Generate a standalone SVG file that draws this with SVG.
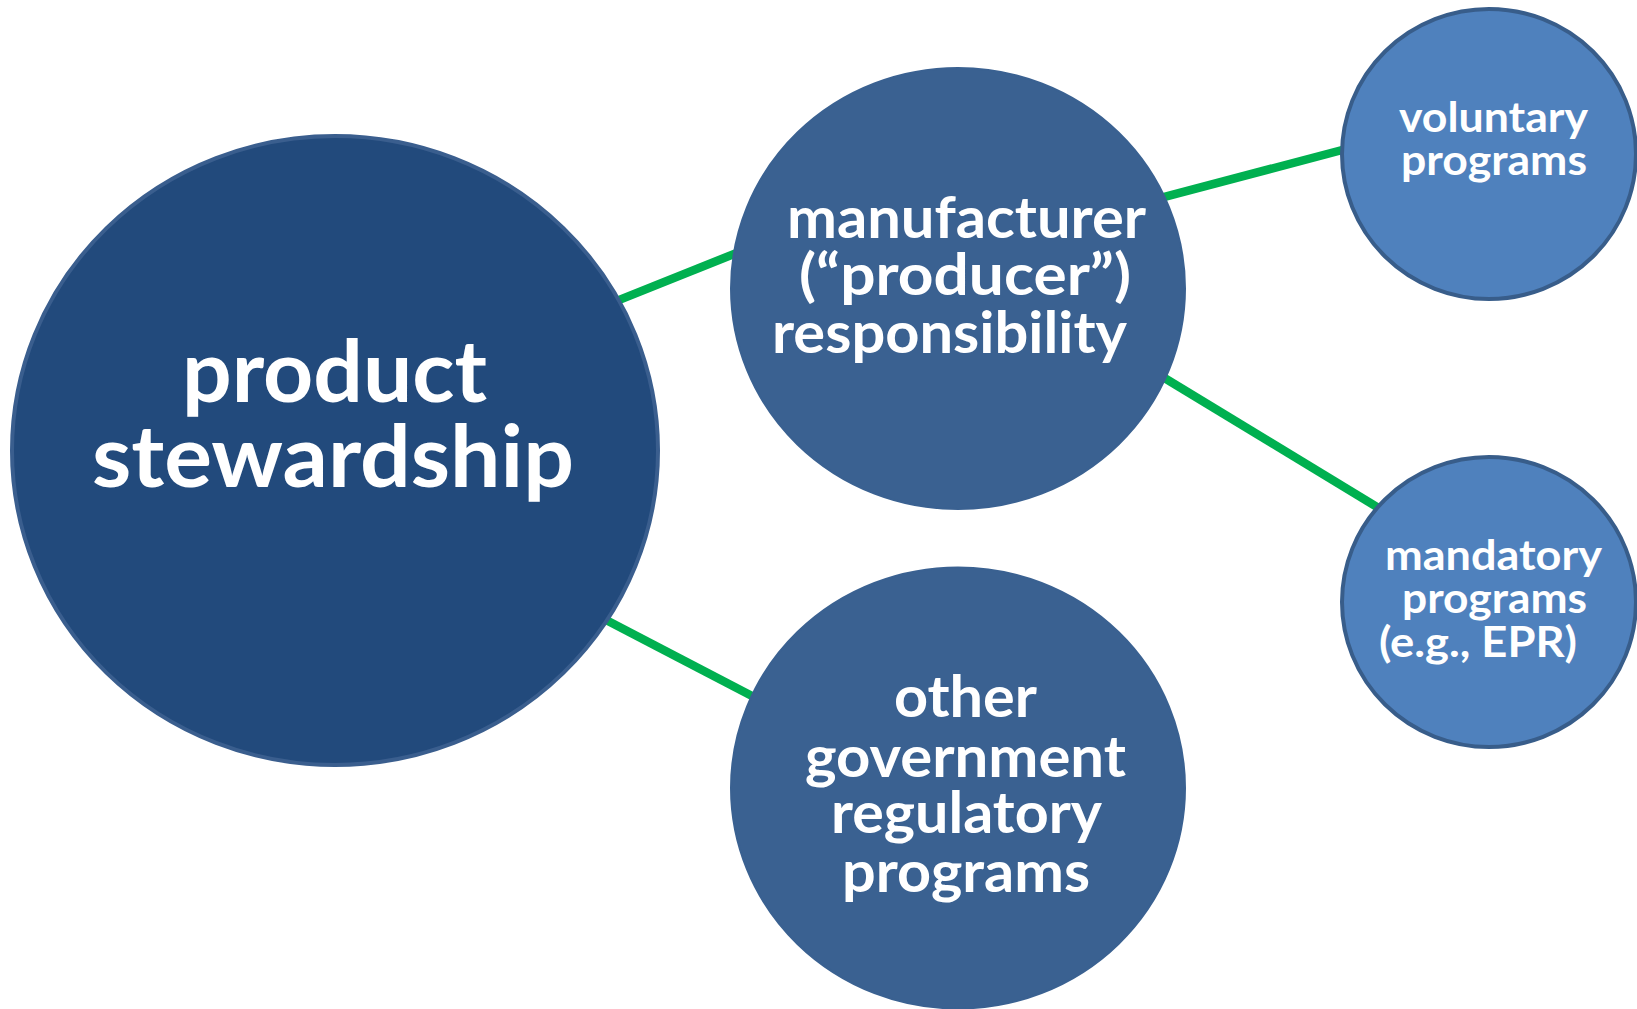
<svg xmlns="http://www.w3.org/2000/svg" width="1637" height="1009" viewBox="0 0 1637 1009">
<style>
.conn{stroke:#00B050;stroke-width:8.5;fill:none}
.big{fill:#224A7C;stroke:#3A5E8E;stroke-width:4}
.mid{fill:#3A6191;stroke:#3A6191;stroke-width:2}
.small{fill:#4F81BD;stroke:#385D8A;stroke-width:4}
text{font-family:Lato,"Open Sans","Liberation Sans",sans-serif;font-weight:bold;fill:#FFFFFF}
.t1{font-size:86px}
.t2{font-size:58px}
.t3{font-size:42px}
</style>
<rect width="1637" height="1009" fill="#FFFFFF"/>
<g id="connectors">
<line class="conn" x1="560" y1="323.6" x2="800" y2="227.6"/>
<line class="conn" x1="560" y1="596" x2="800" y2="721"/>
<line class="conn" x1="1120" y1="208.6" x2="1380" y2="140"/>
<line class="conn" x1="1120" y1="351" x2="1400" y2="521"/>
</g>
<g id="product-stewardship">
<ellipse class="big" cx="335" cy="450.5" rx="323" ry="314.5"/>
<text class="t1" x="182" y="402" textLength="305" lengthAdjust="spacingAndGlyphs">product</text>
<text class="t1" x="92" y="487" textLength="482" lengthAdjust="spacingAndGlyphs">stewardship</text>
</g>
<g id="manufacturer-responsibility">
<ellipse class="mid" cx="958" cy="288.5" rx="227" ry="220.5"/>
<text class="t2" x="787" y="238" textLength="359" lengthAdjust="spacingAndGlyphs">manufacturer</text>
<text class="t2" x="799" y="295" textLength="332" lengthAdjust="spacingAndGlyphs">(“producer”)</text>
<text class="t2" x="772" y="353" textLength="355" lengthAdjust="spacingAndGlyphs">responsibility</text>
</g>
<g id="other-government">
<ellipse class="mid" cx="958" cy="788" rx="227" ry="220.5"/>
<text class="t2" x="894" y="717" textLength="143" lengthAdjust="spacingAndGlyphs">other</text>
<text class="t2" x="805" y="777" textLength="321" lengthAdjust="spacingAndGlyphs">government</text>
<text class="t2" x="831" y="833" textLength="271" lengthAdjust="spacingAndGlyphs">regulatory</text>
<text class="t2" x="842" y="892" textLength="248" lengthAdjust="spacingAndGlyphs">programs</text>
</g>
<g id="voluntary-programs">
<ellipse class="small" cx="1489" cy="154" rx="147" ry="145"/>
<text class="t3" x="1399" y="132" textLength="189" lengthAdjust="spacingAndGlyphs">voluntary</text>
<text class="t3" x="1401" y="175" textLength="186" lengthAdjust="spacingAndGlyphs">programs</text>
</g>
<g id="mandatory-programs">
<ellipse class="small" cx="1489" cy="602" rx="147" ry="145"/>
<text class="t3" x="1385" y="570" textLength="217" lengthAdjust="spacingAndGlyphs">mandatory</text>
<text class="t3" x="1402" y="613" textLength="185" lengthAdjust="spacingAndGlyphs">programs</text>
<text class="t3" x="1379" y="657" textLength="198" lengthAdjust="spacingAndGlyphs">(e.g., EPR)</text>
</g>
</svg>
